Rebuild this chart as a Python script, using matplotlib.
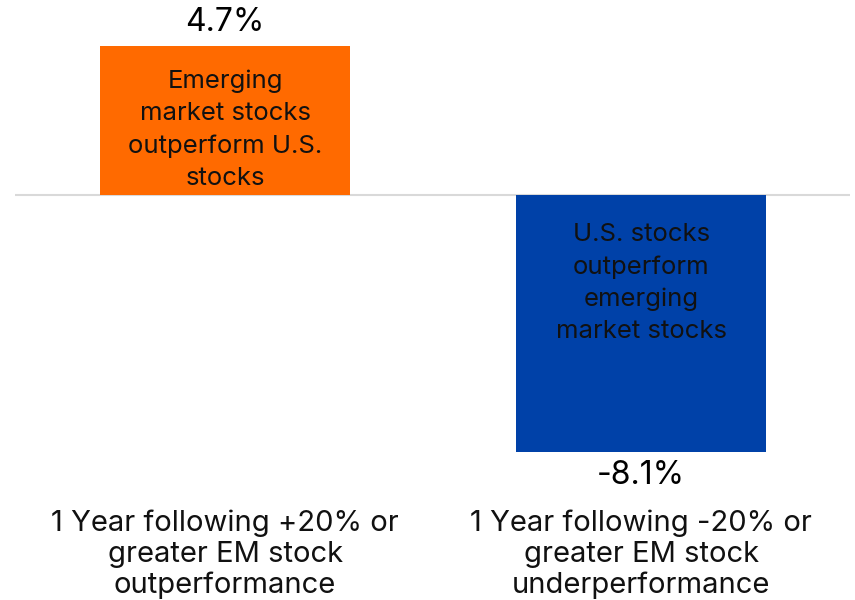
import matplotlib.pyplot as plt
import matplotlib.transforms as mtransforms

plt.rcParams['font.family'] = ['Inter', 'DejaVu Sans']

# data
categories = ["1 Year following +20% or\ngreater EM stock\noutperformance",
              "1 Year following -20% or\ngreater EM stock\nunderperformance"]
values = [4.7, -8.1]
value_labels = ["4.7%", "-8.1%"]
inner_labels = ["Emerging\nmarket stocks\noutperform U.S.\nstocks",
                "U.S. stocks\noutperform\nemerging\nmarket stocks"]
colors = ["#FF6A00", "#0041A8"]

fig = plt.figure(figsize=(8.55, 6), dpi=100)
ax = fig.add_axes([15 / 855, 148 / 600, 835 / 855, 406 / 600])

x = list(range(len(values)))
ax.bar(x, values, width=0.6, color=colors, zorder=2)
ax.axhline(0, color="#d9d9d9", lw=1.5, zorder=1)

ax.set_xlim(-0.505, 1.502)
ax.set_ylim(min(values), max(values))
ax.axis("off")

# value labels
for i, v in enumerate(values):
    off = 6 if v > 0 else -6
    ax.annotate(value_labels[i], (i, v), xytext=(0, off), textcoords="offset points",
                ha="center", va="bottom" if v > 0 else "top", fontsize=23,
                annotation_clip=False)

# text inside bars
tops = [values[0], 0]
offs = [-17, -20]
for i in x:
    ax.annotate(inner_labels[i], (i, tops[i]), xytext=(0, offs[i]), textcoords="offset points",
                ha="center", va="top", fontsize=18.5, linespacing=1.5, color="#111111")

# category labels
trans = mtransforms.blended_transform_factory(ax.transData, ax.transAxes)
for i, c in enumerate(categories):
    ax.text(i, -0.142, c, transform=trans, ha="center", va="top", fontsize=21,
            linespacing=1.17, color="#111111")

fig.savefig("out.png", dpi=100)
